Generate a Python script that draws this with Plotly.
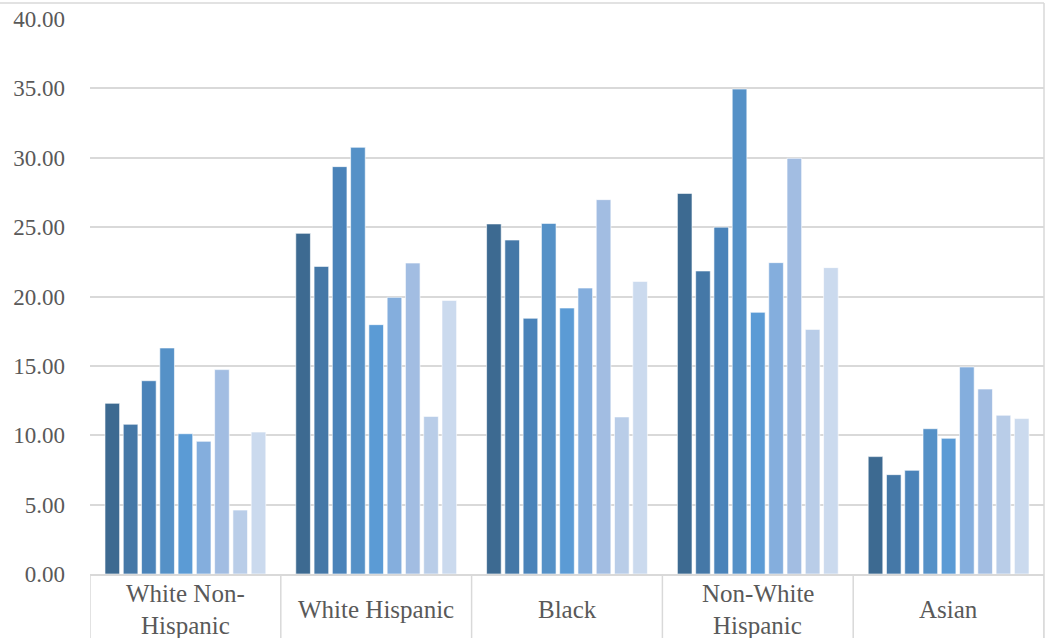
import plotly.graph_objects as go

categories = ["White Non-<br>Hispanic", "White Hispanic", "Black", "Non-White<br>Hispanic", "Asian"]

series_names = ["Series 1", "Series 2", "Series 3", "Series 4", "Series 5",
                "Series 6", "Series 7", "Series 8", "Series 9"]

# values per series, one value per category
s1 = [12.30, 24.55, 25.23, 27.43, 8.46]
s2 = [10.79, 22.17, 24.07, 21.84, 7.16]
s3 = [13.93, 29.36, 18.43, 25.00, 7.47]
s4 = [16.29, 30.75, 25.27, 34.95, 10.47]
s5 = [10.11, 17.97, 19.17, 18.86, 9.78]
s6 = [9.56, 19.94, 20.61, 22.44, 14.92]
s7 = [14.73, 22.41, 26.98, 29.96, 13.33]
s8 = [4.61, 11.36, 11.32, 17.63, 11.44]
s9 = [10.23, 19.72, 21.09, 22.08, 11.20]

series_values = [s1, s2, s3, s4, s5, s6, s7, s8, s9]

colors = ["#3D6A91", "#4578A7", "#4A83B9", "#5591C7", "#5B9BD5",
          "#84AEDD", "#A2BDE2", "#B9CDE8", "#CBDAEE"]

y_ticks = [0, 5, 10, 15, 20, 25, 30, 35, 40]

FONT = "Liberation Serif"
TXT = "#595959"
GRID = "#D9D9D9"

fig = go.Figure()
x_idx = list(range(len(categories)))
for name, vals, col in zip(series_names, series_values, colors):
    fig.add_trace(go.Bar(
        x=x_idx, y=vals, name=name,
        marker=dict(color=col, line=dict(color="rgba(255,255,255,0.6)", width=1)),
    ))

W, H = 1045, 638
ml, mr, mt, mb = 90, 1, 19, 64
plot_h = H - mt - mb

fig.update_layout(
    width=W, height=H,
    margin=dict(l=ml, r=mr, t=mt, b=mb),
    paper_bgcolor="white", plot_bgcolor="white",
    barmode="group", bargap=0.138, bargroupgap=0.2,
    showlegend=False,
    font=dict(family=FONT, color=TXT, size=23),
)
fig.update_xaxes(
    range=[-0.5, len(categories) - 0.5],
    showticklabels=False, showgrid=False, zeroline=False,
    showline=True, linecolor=GRID, linewidth=1.5, ticks="",
    fixedrange=True,
)
fig.update_yaxes(
    range=[0, 40], tickvals=y_ticks, tickformat=".2f",
    showgrid=True, gridcolor=GRID, gridwidth=1.5,
    zeroline=False, showline=False, ticks="",
    ticklabelstandoff=24,
    tickfont=dict(family=FONT, color=TXT, size=23),
)

shapes = []
# category divider lines below the axis
for i in range(len(categories) + 1):
    shapes.append(dict(type="line", xref="x", yref="paper",
                       x0=i - 0.5, x1=i - 0.5, y0=0, y1=-0.2,
                       line=dict(color=GRID, width=1.5), layer="below"))
# chart border (top & right)
top_y = 1 + 16 / plot_h
shapes.append(dict(type="line", xref="paper", yref="paper",
                   x0=-0.2, x1=1.0, y0=top_y, y1=top_y,
                   line=dict(color=GRID, width=1.5)))
shapes.append(dict(type="line", xref="paper", yref="paper",
                   x0=1.0, x1=1.0, y0=-0.2, y1=top_y,
                   line=dict(color=GRID, width=1.5)))
fig.update_layout(shapes=shapes)

annotations = []
for i, cat in enumerate(categories):
    lines = cat.split("<br>")
    if len(lines) == 1:
        offsets = [35]
    else:
        offsets = [19, 51]
    for ln, off in zip(lines, offsets):
        annotations.append(dict(
            x=i, xref="x", y=-off / plot_h, yref="paper",
            text=ln, showarrow=False, xanchor="center", yanchor="middle",
            font=dict(family=FONT, color=TXT, size=25),
        ))
fig.update_layout(annotations=annotations)

fig.write_html(
    "out.html",
    config={"displayModeBar": False},
    post_script="document.body.style.margin='0';document.body.style.padding='0';document.body.style.overflow='hidden';",
)
